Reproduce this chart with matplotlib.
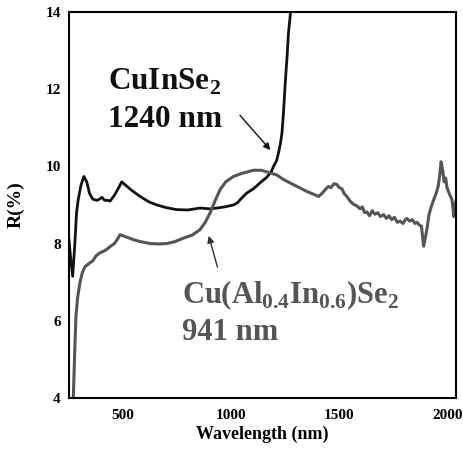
import matplotlib
matplotlib.use("Agg")
import matplotlib.pyplot as plt

plt.rcParams['font.family'] = ['Liberation Serif', 'DejaVu Serif']
plt.rcParams['font.weight'] = 'bold'
plt.rcParams['mathtext.fontset'] = 'custom'
plt.rcParams['mathtext.rm'] = 'Liberation Serif:bold'
plt.rcParams['mathtext.bf'] = 'Liberation Serif:bold'

# CuInSe2 reflectance (black)
cis_wl = [250, 258, 267, 276, 285, 293, 305, 319, 332, 345, 360, 380, 393, 402, 415, 430,
          440, 460, 480, 494, 510, 540, 579, 620, 656, 700, 748, 800, 856, 900, 934,
          970, 1011, 1030, 1042, 1070, 1103, 1135, 1165, 1185, 1196, 1210, 1219, 1228,
          1235, 1242, 1250, 1258, 1265, 1272, 1276]
cis_r = [8.1, 7.6, 7.15, 7.9, 8.8, 9.15, 9.5, 9.74, 9.6, 9.3, 9.15, 9.12, 9.16, 9.2, 9.12,
         9.12, 9.1, 9.25, 9.45, 9.6, 9.52, 9.38, 9.22, 9.08, 9.0, 8.93, 8.88, 8.87, 8.92,
         8.9, 8.92, 8.95, 9.0, 9.06, 9.14, 9.3, 9.42, 9.58, 9.72, 9.86, 10.0, 10.15, 10.35,
         10.6, 10.87, 11.4, 12.16, 12.8, 13.46, 13.85, 14.1]

# Cu(Al0.4In0.6)Se2 reflectance (gray)
cais_wl = [270, 276, 282, 290, 301, 312, 324, 335, 347, 360, 375, 393, 410, 425, 440,
           460, 475, 486, 500, 525, 548, 580, 625, 665, 702, 740, 779, 820, 856, 880,
           903, 925, 949, 975, 1011, 1050, 1103, 1140, 1181, 1210, 1242, 1280, 1319,
           1350, 1380, 1404, 1420, 1435, 1450, 1462, 1475, 1489, 1500, 1512, 1522, 1535,
           1550, 1565, 1580, 1597, 1607, 1617, 1628, 1640, 1652, 1665, 1678, 1690, 1705,
           1718, 1730, 1742, 1755, 1768, 1782, 1795, 1805, 1813, 1825, 1838, 1850, 1860,
           1870, 1880, 1890, 1898, 1906, 1915, 1925, 1937, 1948, 1958, 1964, 1971, 1978,
           1985, 1992, 1998, 2005, 2012, 2021, 2026, 2029, 2034, 2040]
cais_r = [4.0, 5.1, 6.1, 6.6, 7.0, 7.25, 7.4, 7.45, 7.5, 7.55, 7.68, 7.76, 7.8, 7.85, 7.92,
          8.0, 8.12, 8.23, 8.2, 8.15, 8.1, 8.05, 8.0, 7.99, 8.0, 8.05, 8.14, 8.22, 8.36,
          8.55, 8.8, 9.1, 9.4, 9.6, 9.74, 9.82, 9.9, 9.9, 9.83, 9.78, 9.66, 9.55, 9.44,
          9.35, 9.28, 9.22, 9.3, 9.4, 9.48, 9.45, 9.55, 9.53, 9.45, 9.42, 9.3, 9.22, 9.1,
          9.02, 8.98, 8.9, 8.95, 8.8, 8.82, 8.72, 8.85, 8.76, 8.8, 8.7, 8.75, 8.65, 8.72,
          8.62, 8.68, 8.55, 8.58, 8.52, 8.62, 8.65, 8.58, 8.62, 8.52, 8.55, 8.48, 8.45,
          7.93, 8.15, 8.4, 8.75, 8.95, 9.14, 9.3, 9.5, 9.75, 10.12, 9.9, 9.6, 9.7, 9.45,
          9.35, 9.25, 9.14, 8.9, 8.7, 9.0, 9.1]

xticks = [500, 1000, 1500, 2000]
yticks = [4, 6, 8, 10, 12, 14]

fig = plt.figure(figsize=(4.63, 4.49), dpi=100)
ax = fig.add_axes([0.149, 0.114, 0.836, 0.859])

ax.plot(cis_wl, cis_r, color='#111111', lw=2.0)
ax.plot(cais_wl, cais_r, color='#555555', lw=2.2)

ax.set_xlim(250, 2040)
ax.set_ylim(4, 14)
ax.set_xticks(xticks)
ax.set_yticks(yticks)
ax.tick_params(length=0, labelsize=11)
ax.tick_params(axis='x', pad=8)
ax.tick_params(axis='y', pad=6)
for lab in ax.get_xticklabels() + ax.get_yticklabels():
    lab.set_fontweight('bold')
for sp in ax.spines.values():
    sp.set_linewidth(1.5)

ax.set_xlabel('Wavelength (nm)', fontsize=13, fontweight='bold')
ax.set_ylabel('R(%)', fontsize=14, fontweight='bold')
ax.xaxis.set_label_coords(0.5, -0.073)
ax.yaxis.set_label_coords(-0.114, 0.5)

ax.text(430, 11.98, r'CuInSe$_{2}$', fontsize=22.5, fontweight='bold', color='#111111')
ax.text(430, 11.02, '1240 nm', fontsize=22.5, fontweight='bold', color='#111111')
ax.annotate('', xy=(1190, 10.37), xytext=(1032, 11.38),
            arrowprops=dict(arrowstyle='-|>', color='#111111', lw=1, mutation_scale=10))

ax.text(773, 6.46, r'Cu(Al$_{0.4}$In$_{0.6}$)Se$_{2}$', fontsize=22, fontweight='bold',
        color='#555555')
ax.text(773, 5.5, '941 nm', fontsize=22, fontweight='bold', color='#555555')
ax.annotate('', xy=(893, 8.27), xytext=(940, 7.32),
            arrowprops=dict(arrowstyle='-|>', color='#333333', lw=1, mutation_scale=10))

fig.savefig('out.png', dpi=100)
